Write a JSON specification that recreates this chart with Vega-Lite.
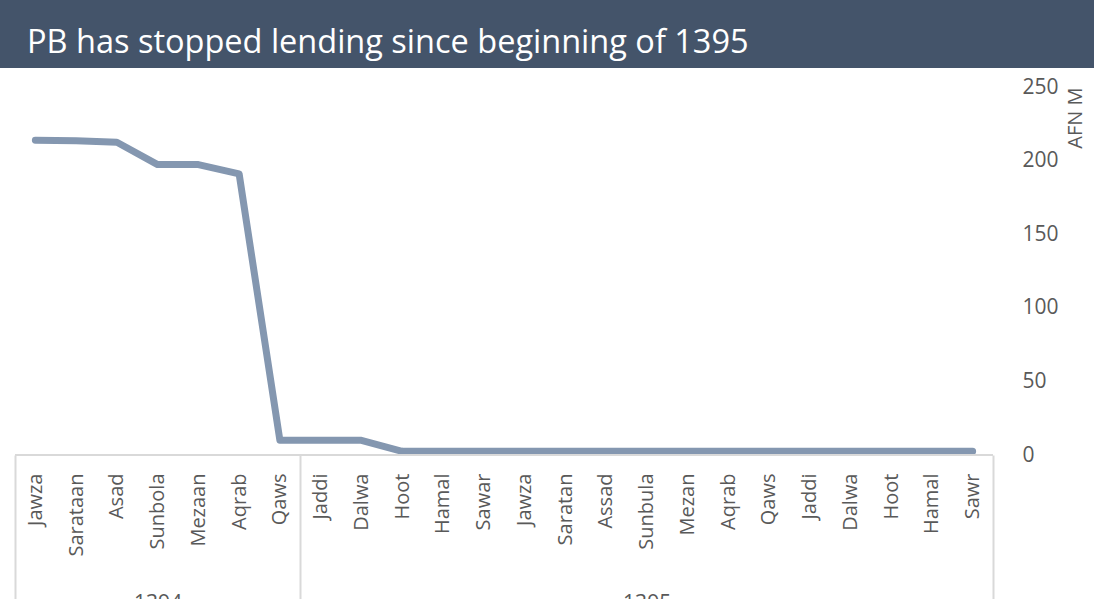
{
  "$schema": "https://vega.github.io/schema/vega-lite/v6.json",
  "padding": 0,
  "background": "white",
  "bounds": "flush",
  "spacing": 19,
  "title": {
    "text": "PB has stopped lending since beginning of 1395",
    "anchor": "start",
    "color": "#ffffff",
    "font": "Open Sans",
    "fontSize": 32.5,
    "fontWeight": "normal",
    "baseline": "alphabetic",
    "offset": -85,
    "dx": 27
  },
  "config": {"view": {"stroke": null}},
  "vconcat": [
    {
      "width": 1094,
      "height": 68,
      "view": {"fill": "#44546A", "stroke": null},
      "data": {"values": [{"t": ""}]},
      "mark": {"type": "text"},
      "encoding": {"text": {"field": "t"}}
    },
    {
      "width": 1008,
      "height": 368,
      "layer": [
        {
          "data": {
            "values": [
              {"period": "Jawza 1394", "loans": 213.9},
              {"period": "Sarataan 1394", "loans": 213.5},
              {"period": "Asad 1394", "loans": 212.5},
              {"period": "Sunbola 1394", "loans": 197.3},
              {"period": "Mezaan 1394", "loans": 197.3},
              {"period": "Aqrab 1394", "loans": 191.0},
              {"period": "Qaws 1394", "loans": 10.0},
              {"period": "Jaddi 1394", "loans": 10.0},
              {"period": "Dalwa 1394", "loans": 10.0},
              {"period": "Hoot 1394", "loans": 2.5},
              {"period": "Hamal 1395", "loans": 2.5},
              {"period": "Sawar 1395", "loans": 2.5},
              {"period": "Jawza 1395", "loans": 2.5},
              {"period": "Saratan 1395", "loans": 2.5},
              {"period": "Assad 1395", "loans": 2.5},
              {"period": "Sunbula 1395", "loans": 2.5},
              {"period": "Mezan 1395", "loans": 2.5},
              {"period": "Aqrab 1395", "loans": 2.5},
              {"period": "Qaws 1395", "loans": 2.5},
              {"period": "Jaddi 1395", "loans": 2.5},
              {"period": "Dalwa 1395", "loans": 2.5},
              {"period": "Hoot 1395", "loans": 2.5},
              {"period": "Hamal 1396", "loans": 2.5},
              {"period": "Sawr 1396", "loans": 2.5}
            ]
          },
          "mark": {"type": "line", "color": "#8497B0", "strokeWidth": 7, "strokeCap": "round", "strokeJoin": "round"},
          "encoding": {
            "x": {
              "field": "period",
              "type": "ordinal",
              "sort": null,
              "scale": {"type": "point", "padding": 0.868},
              "axis": {
                "orient": "bottom",
                "title": null,
                "labelAngle": -90,
                "labelAlign": "right",
                "labelBaseline": "middle",
                "labelExpr": "split(datum.value, ' ')[0]",
                "ticks": false,
                "domain": false,
                "labelPadding": 18,
                "labelFont": "Open Sans",
                "labelFontSize": 20,
                "labelColor": "#595959",
                "labelOverlap": false,
                "labelBound": false
              }
            },
            "y": {
              "field": "loans",
              "type": "quantitative",
              "scale": {"domain": [0, 250], "nice": false},
              "axis": {
                "orient": "right",
                "values": [0, 50, 100, 150, 200, 250],
                "ticks": false,
                "domain": false,
                "grid": false,
                "labelPadding": 14,
                "labelFont": "Open Sans",
                "labelFontSize": 21,
                "labelColor": "#595959",
                "labelAlign": "left",
                "title": "AFN M",
                "titleAngle": -90,
                "titleAnchor": "end",
                "titleFont": "Open Sans",
                "titleFontSize": 20,
                "titleFontWeight": "normal",
                "titleColor": "#595959",
                "titlePadding": 27
              }
            }
          }
        },
        {
          "data": {"values": [{}]},
          "mark": {"type": "rule", "color": "#D9D9D9", "strokeWidth": 2},
          "encoding": {
            "x": {
              "datum": 0,
              "type": "quantitative",
              "scale": {"domain": [-0.368, 24.368], "nice": false, "zero": false},
              "axis": {
                "orient": "bottom",
                "title": null,
                "values": [0, 3.5, 7, 15.5, 24],
                "domain": false,
                "grid": false,
                "tickSize": 150,
                "tickColor": "#D9D9D9",
                "tickWidth": 2,
                "tickOpacity": {"condition": {"test": "datum.value == 3.5 || datum.value == 15.5", "value": 0}, "value": 1},
                "labelExpr": "datum.value == 3.5 ? '1394' : datum.value == 15.5 ? '1395' : ''",
                "labelPadding": -13,
                "labelFont": "Open Sans",
                "labelFontSize": 21,
                "labelColor": "#595959",
                "labelAngle": 0,
                "labelBaseline": "top",
                "labelOverlap": false,
                "labelFlush": false,
                "labelBound": false
              }
            },
            "x2": {"datum": 24},
            "y": {"datum": 0, "type": "quantitative"}
          }
        }
      ],
      "resolve": {"scale": {"x": "independent"}}
    }
  ]
}
